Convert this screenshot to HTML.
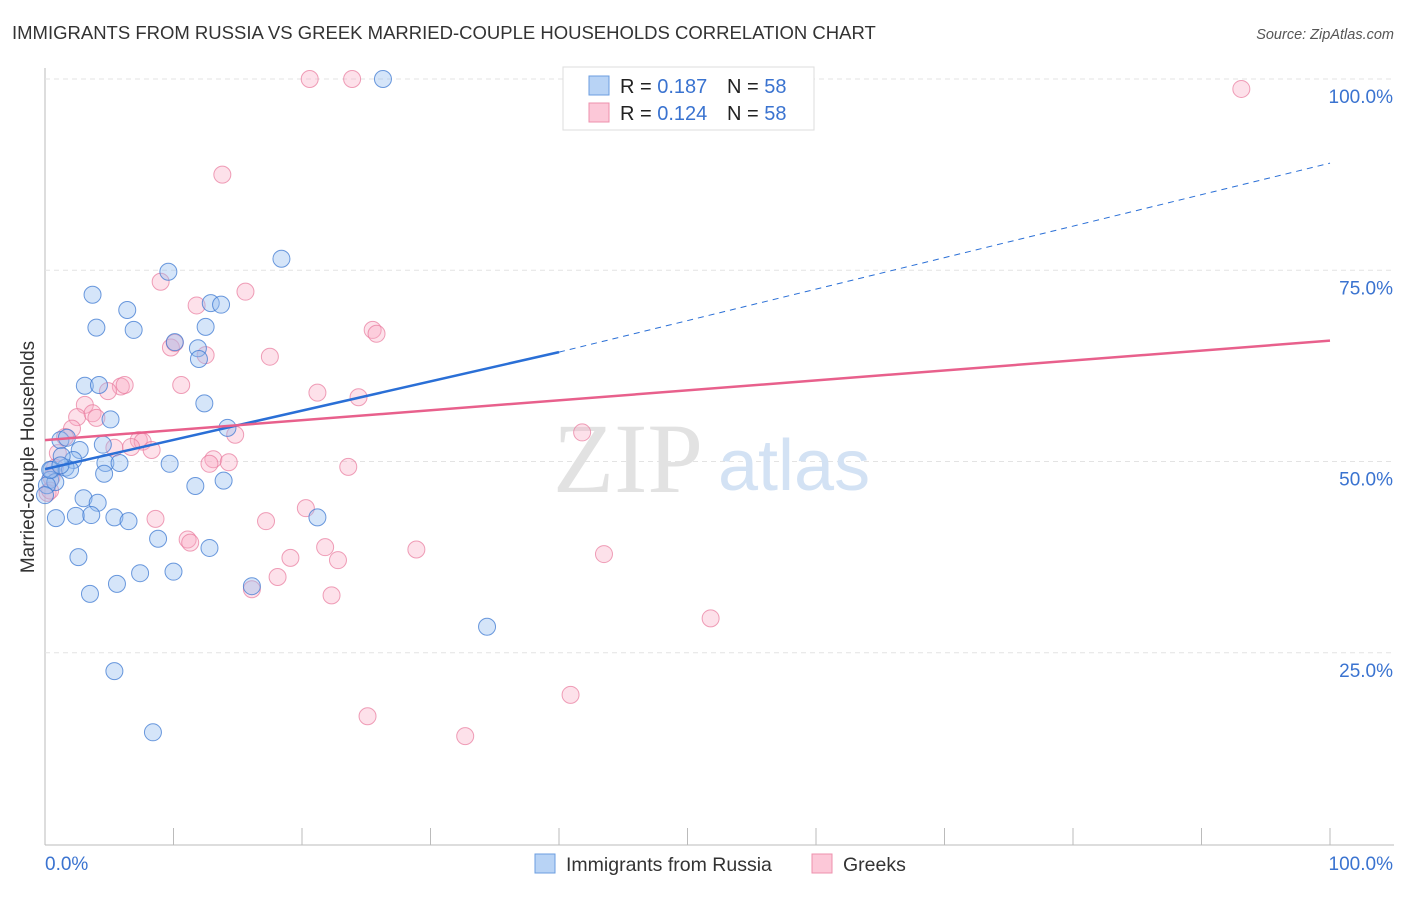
<!DOCTYPE html>
<html><head><meta charset="utf-8"><style>
body{margin:0;background:#fff;font-family:"Liberation Sans",sans-serif;}
</style></head><body>
<svg id="chart" width="1406" height="892" font-family="Liberation Sans, sans-serif">
<text x="12" y="39" font-size="18.5" fill="#333">IMMIGRANTS FROM RUSSIA VS GREEK MARRIED-COUPLE HOUSEHOLDS CORRELATION CHART</text>
<text x="1394" y="39" font-size="14.5" fill="#555" font-style="italic" text-anchor="end">Source: ZipAtlas.com</text>
<text x="34" y="457" font-size="19" fill="#333" text-anchor="middle" transform="rotate(-90 34 457)">Married-couple Households</text>
<g id="grid"></g>
<text x="553" y="492" font-size="100" fill="#e2e2e2" style="font-family:'Liberation Serif',serif">ZIP</text>
<text x="718" y="490" font-size="72" fill="#d3e2f4">atlas</text>
<g id="pts"></g>
<g id="lines"></g>
<g>
<rect x="563" y="67" width="251" height="63" fill="#fff" stroke="#ddd"/>
<rect x="589" y="76" width="20" height="19" fill="#b8d3f5" stroke="#6b9ee0"/>
<rect x="589" y="103" width="20" height="19" fill="#fcc8d8" stroke="#ee90ad"/>
<text x="620" y="93" font-size="20" fill="#222">R = <tspan fill="#3a73d0">0.187</tspan></text>
<text x="727" y="93" font-size="20" fill="#222">N = <tspan fill="#3a73d0">58</tspan></text>
<text x="620" y="120" font-size="20" fill="#222">R = <tspan fill="#3a73d0">0.124</tspan></text>
<text x="727" y="120" font-size="20" fill="#222">N = <tspan fill="#3a73d0">58</tspan></text>
</g>
<g>
<rect x="535" y="854" width="20" height="19" fill="#b8d3f5" stroke="#6b9ee0"/>
<text x="566" y="871" font-size="19.5" fill="#333">Immigrants from Russia</text>
<rect x="812" y="854" width="20" height="19" fill="#fcc8d8" stroke="#ee90ad"/>
<text x="843" y="871" font-size="19.5" fill="#333">Greeks</text>
</g>
</svg>
<script>
const xTicks=[0,10,20,30,40,50,60,70,80,90,100];
const yTicks=[25,50,75,100];
const russiaX=[26.3,9.6,18.4,3.7,6.4,12.9,13.7,4.0,6.9,12.5,10.1,11.9,11.98,3.1,4.2,12.4,5.1,14.2,1.2,1.7,4.5,2.7,2.2,1.6,1.95,0.5,4.7,5.8,9.7,4.6,11.7,13.9,0.4,0.8,3.0,4.1,0.85,2.4,3.6,5.4,6.5,21.2,8.8,12.8,2.6,7.4,10.0,5.6,3.5,16.1,34.4,5.4,8.4,0.15,1.3,0.4,1.2,0.0];
const russiaY=[100,74.8,76.5,71.8,69.8,70.7,70.5,67.5,67.2,67.6,65.6,64.8,63.4,59.9,60.0,57.6,55.5,54.4,52.8,53.1,52.2,51.5,50.2,49.2,48.9,48.9,49.8,49.8,49.7,48.4,46.8,47.5,47.6,47.3,45.2,44.6,42.6,42.9,43.0,42.7,42.2,42.7,39.9,38.7,37.5,35.4,35.6,34.0,32.7,33.7,28.4,22.6,14.6,46.9,50.7,48.9,49.5,45.6];
const greekX=[20.6,23.9,93.1,13.8,9.0,15.6,11.8,25.5,25.8,9.8,10.1,12.5,17.5,10.6,5.9,6.2,4.9,21.2,24.4,3.1,2.5,3.7,4.0,2.1,1.56,14.8,41.8,7.3,7.6,5.4,8.3,6.7,13.1,14.3,12.8,23.6,1.0,0.5,0.2,20.3,8.6,17.2,21.8,28.9,11.1,11.3,19.1,22.8,43.5,18.1,16.1,22.3,51.8,40.9,25.1,32.7,0.78,0.4];
const greekY=[100,100,98.7,87.5,73.5,72.2,70.4,67.2,66.7,64.9,65.5,63.9,63.7,60.0,59.8,60.0,59.2,59.0,58.4,57.4,55.8,56.3,55.7,54.3,53.2,53.5,53.8,52.8,52.6,51.8,51.5,51.9,50.3,49.9,49.7,49.3,51.1,47.9,45.9,43.9,42.5,42.2,38.8,38.5,39.8,39.4,37.4,37.1,37.9,34.9,33.3,32.5,29.5,19.5,16.7,14.1,49.2,46.2];
const russiaTrend=[49.0,64.3,89.0];const greekTrend=[52.8,65.8];
const X=v=>45+v*12.85, Y=v=>844-v*7.65;
const NS='http://www.w3.org/2000/svg';
function mk(t,a,p){const e=document.createElementNS(NS,t);for(const k in a)e.setAttribute(k,a[k]);p.appendChild(e);return e;}
const grid=document.getElementById('grid');
let ax=mk('line',{x1:45,y1:68,x2:45,y2:845,stroke:'#bbb'},grid);


let bx=mk('line',{x1:45,y1:845,x2:1394,y2:845,stroke:'#bbb'},grid);


xTicks.forEach(t=>{const l=mk('line',{x1:X(t),y1:828,x2:X(t),y2:845,stroke:'#bbb'},grid);

});
yTicks.forEach(t=>{const l=mk('line',{x1:45,y1:Y(t),x2:1394,y2:Y(t),stroke:'#e3e3e3','stroke-dasharray':'5,4'},grid);


const tx=mk('text',{x:1393,y:Y(t)+24,'font-size':19,fill:'#3a73d0','text-anchor':'end'},grid);tx.textContent=t.toFixed(1)+'%';

});
[[45,'start','0.0%'],[1393,'end','100.0%']].forEach(a=>{const tx=mk('text',{x:a[0],y:870,'font-size':19,fill:'#3a73d0','text-anchor':a[1]},grid);tx.textContent=a[2];

});
const pts=document.getElementById('pts');
greekX.forEach((v,i)=>{const c=mk('circle',{cx:X(v),cy:Y(greekY[i]),r:8.5,fill:'rgba(248,170,195,0.35)',stroke:'rgba(232,120,155,0.7)','stroke-width':1},pts);

});
russiaX.forEach((v,i)=>{const c=mk('circle',{cx:X(v),cy:Y(russiaY[i]),r:8.5,fill:'rgba(150,190,240,0.4)',stroke:'rgba(60,120,210,0.75)','stroke-width':1},pts);

});
const lines=document.getElementById('lines');
let l1=mk('line',{x1:X(0),y1:Y(russiaTrend[0]),x2:X(40),y2:Y(russiaTrend[1]),stroke:'#2a6fd6','stroke-width':2.5},lines);


let l2=mk('line',{x1:X(40),y1:Y(russiaTrend[1]),x2:X(100),y2:Y(russiaTrend[2]),stroke:'#2a6fd6','stroke-width':1,'stroke-dasharray':'6,5'},lines);


let l3=mk('line',{x1:X(0),y1:Y(greekTrend[0]),x2:X(100),y2:Y(greekTrend[1]),stroke:'#e8608c','stroke-width':2.5},lines);


</script>
</body></html>
